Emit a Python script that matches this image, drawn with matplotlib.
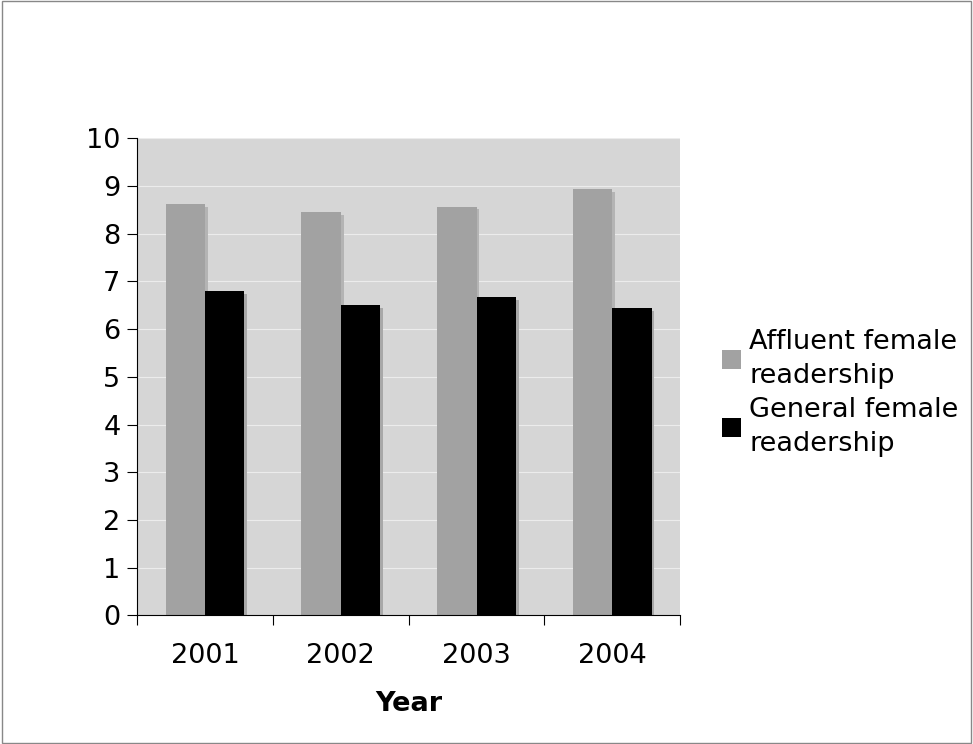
import numpy as np
import matplotlib.pyplot as plt

years = ["2001", "2002", "2003", "2004"]
affluent = [8.62, 8.45, 8.57, 8.93]
general = [6.79, 6.50, 6.67, 6.44]

plt.rcParams["font.family"] = ["DejaVu Sans"]

fig = plt.figure(figsize=(9.73, 7.44), dpi=100)
ax = fig.add_axes([0.141, 0.173, 0.558, 0.641])
ax.set_facecolor("#d6d6d6")

x = np.arange(len(years))
w = 0.29

# grid lines
for v in range(1, 11):
    ax.axhline(v, color="#ececec", lw=0.8, zorder=0)

# faint shadow behind each bar
ax.bar(x - w / 2 + 0.02, np.array(affluent) - 0.05, w, color="#b4b4b4", zorder=1)
ax.bar(x + w / 2 + 0.02, np.array(general) - 0.05, w, color="#a8a8a8", zorder=1)

ax.bar(x - w / 2, affluent, w, color="#a2a2a2", label="Affluent female\nreadership", zorder=2)
ax.bar(x + w / 2, general, w, color="black", label="General female\nreadership", zorder=2)

ax.set_xlim(-0.5, 3.5)
ax.set_ylim(0, 10)
ax.set_yticks(range(0, 11))
ax.set_xticks(x)
ax.set_xticklabels(years)
ax.set_xticks(np.arange(-0.5, 4, 1), minor=True)
ax.tick_params(axis="x", which="major", length=0, pad=20, labelsize=19.5)
ax.tick_params(axis="x", which="minor", length=7, width=0.8)
ax.tick_params(axis="y", length=7, width=0.8, labelsize=19.5, pad=5)

for s in ["top", "right"]:
    ax.spines[s].set_visible(False)
ax.spines["left"].set_linewidth(0.8)
ax.spines["bottom"].set_linewidth(0.8)

ax.set_xlabel("Year", fontsize=19.5, fontweight="bold", labelpad=16)

leg = fig.legend(*ax.get_legend_handles_labels(), loc="center left",
                 bbox_to_anchor=(0.742, 0.472), frameon=False,
                 fontsize=19.5, handlelength=0.7, handleheight=0.7, handletextpad=0.3,
                 labelspacing=0.3, borderaxespad=0, borderpad=0)
for t in leg.get_texts():
    t.set_linespacing(1.4)

# outer frame
fig.patches.append(plt.Rectangle((0.002, 0.002), 0.996, 0.996, transform=fig.transFigure,
                                 fill=False, edgecolor="#888888", lw=1))

plt.savefig("out.png")
